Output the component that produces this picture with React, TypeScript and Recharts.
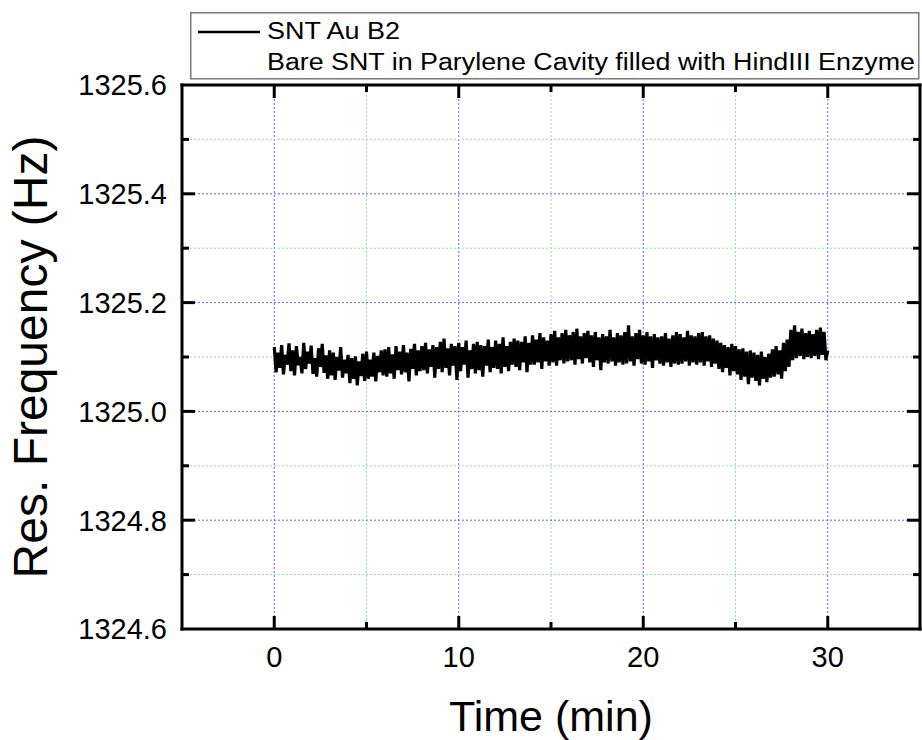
import React from "react";
import {
  LineChart,
  Line,
  XAxis,
  YAxis,
  ReferenceLine,
  Legend,
  Label,
} from "recharts";

const FONT = "'Liberation Sans', Arial, Helvetica, sans-serif";

// resonance frequency (Hz), one sample every 0.1 min from 0 to 30 min
const sampleStepMin = 0.1;
const resFreq = [
  1325.118, 1325.072, 1325.108, 1325.080, 1325.122, 1325.068, 1325.104, 1325.086, 1325.125, 1325.074,
  1325.112, 1325.066, 1325.120, 1325.085, 1325.100, 1325.070, 1325.126, 1325.078, 1325.110, 1325.088,
  1325.121, 1325.069, 1325.098, 1325.064, 1325.116, 1325.082, 1325.124, 1325.071, 1325.103, 1325.060,
  1325.112, 1325.066, 1325.108, 1325.058, 1325.100, 1325.075, 1325.118, 1325.062, 1325.095, 1325.070,
  1325.104, 1325.052, 1325.098, 1325.060, 1325.101, 1325.048, 1325.092, 1325.065, 1325.106, 1325.056,
  1325.110, 1325.060, 1325.095, 1325.064, 1325.108, 1325.055, 1325.102, 1325.072, 1325.112, 1325.066,
  1325.114, 1325.064, 1325.118, 1325.070, 1325.105, 1325.060, 1325.120, 1325.076, 1325.110, 1325.068,
  1325.122, 1325.072, 1325.108, 1325.055, 1325.115, 1325.078, 1325.124, 1325.066, 1325.112, 1325.074,
  1325.120, 1325.076, 1325.126, 1325.070, 1325.114, 1325.082, 1325.122, 1325.062, 1325.118, 1325.078,
  1325.128, 1325.072, 1325.134, 1325.080, 1325.116, 1325.066, 1325.124, 1325.084, 1325.120, 1325.058,
  1325.126, 1325.074, 1325.118, 1325.086, 1325.130, 1325.062, 1325.112, 1325.078, 1325.124, 1325.070,
  1325.128, 1325.076, 1325.122, 1325.064, 1325.120, 1325.084, 1325.132, 1325.072, 1325.118, 1325.080,
  1325.130, 1325.078, 1325.124, 1325.070, 1325.136, 1325.082, 1325.120, 1325.074, 1325.128, 1325.086,
  1325.134, 1325.082, 1325.130, 1325.076, 1325.128, 1325.090, 1325.138, 1325.072, 1325.126, 1325.086,
  1325.140, 1325.086, 1325.132, 1325.090, 1325.144, 1325.078, 1325.136, 1325.092, 1325.130, 1325.084,
  1325.142, 1325.090, 1325.148, 1325.084, 1325.136, 1325.094, 1325.144, 1325.088, 1325.150, 1325.092,
  1325.140, 1325.094, 1325.146, 1325.086, 1325.152, 1325.096, 1325.138, 1325.088, 1325.144, 1325.098,
  1325.148, 1325.090, 1325.140, 1325.082, 1325.146, 1325.094, 1325.136, 1325.076, 1325.142, 1325.090,
  1325.138, 1325.088, 1325.150, 1325.092, 1325.136, 1325.084, 1325.144, 1325.090, 1325.140, 1325.086,
  1325.146, 1325.088, 1325.158, 1325.092, 1325.138, 1325.084, 1325.144, 1325.096, 1325.150, 1325.088,
  1325.140, 1325.086, 1325.146, 1325.092, 1325.138, 1325.080, 1325.142, 1325.094, 1325.136, 1325.088,
  1325.138, 1325.084, 1325.144, 1325.090, 1325.134, 1325.082, 1325.140, 1325.088, 1325.146, 1325.086,
  1325.142, 1325.088, 1325.136, 1325.092, 1325.148, 1325.084, 1325.140, 1325.090, 1325.138, 1325.086,
  1325.144, 1325.090, 1325.146, 1325.084, 1325.138, 1325.092, 1325.140, 1325.082, 1325.134, 1325.088,
  1325.130, 1325.078, 1325.126, 1325.072, 1325.122, 1325.080, 1325.118, 1325.066, 1325.124, 1325.074,
  1325.120, 1325.068, 1325.114, 1325.058, 1325.116, 1325.064, 1325.110, 1325.050, 1325.112, 1325.062,
  1325.108, 1325.056, 1325.104, 1325.048, 1325.110, 1325.060, 1325.100, 1325.054, 1325.106, 1325.062,
  1325.114, 1325.064, 1325.120, 1325.068, 1325.112, 1325.060, 1325.126, 1325.074, 1325.132, 1325.082,
  1325.150, 1325.094, 1325.158, 1325.098, 1325.146, 1325.102, 1325.152, 1325.096, 1325.144, 1325.100,
  1325.148, 1325.098, 1325.142, 1325.102, 1325.150, 1325.096, 1325.154, 1325.104, 1325.146, 1325.094,
  1325.112,
];

const seriesName = "SNT Au B2";
const legendNote = "Bare SNT in Parylene Cavity filled with HindIII Enzyme";

const xDomain = [-5, 35];
const xMajorTicks = [0, 10, 20, 30];
const xMinorTicks = [5, 15, 25];

const yDomain = [1324.6, 1325.6];
const yMajorTicks = [1324.6, 1324.8, 1325.0, 1325.2, 1325.4, 1325.6];
const yMinorTicks = [1324.7, 1324.9, 1325.1, 1325.3, 1325.5];

const data = resFreq.map((f, i) => ({
  t: Math.round(i * sampleStepMin * 10) / 10,
  f,
}));

// frame of the plot area (page pixels)
const W = 922;
const H = 740;
const PLOT_LEFT = 182;
const PLOT_TOP = 85;
const PLOT_RIGHT = 920;
const PLOT_BOTTOM = 629;
const TOP_AXIS_H = 5;
const RIGHT_AXIS_W = 2;

// data units per pixel, for sizing the inward tick marks
const xPerPx = (xDomain[1] - xDomain[0]) / (PLOT_RIGHT - PLOT_LEFT);
const yPerPx = (yDomain[1] - yDomain[0]) / (PLOT_BOTTOM - PLOT_TOP);

const inside = (v: number, d: number[]) => v > d[0] + 1e-6 && v < d[1] - 1e-6;

const MAJOR_LEN = 13;
const MINOR_LEN = 7;
const tickStyle = { stroke: "#000", strokeWidth: 3, ifOverflow: "visible" as const };
const axisLine = { stroke: "#000", strokeWidth: 3, strokeLinecap: "square" as const };
const majorGrid = { stroke: "#6060ff", strokeWidth: 1, strokeDasharray: "2 2" };
const minorGrid = { stroke: "#90e890", strokeWidth: 1, strokeDasharray: "2 2" };

function BottomLabel({ x, payload }: any) {
  return (
    <text x={x} y={PLOT_BOTTOM + 38} textAnchor="middle" fontSize={29} fontFamily={FONT} fill="#000">
      {payload.value}
    </text>
  );
}

function LeftLabel({ y, payload }: any) {
  return (
    <text x={PLOT_LEFT - 15} y={y} dy="0.36em" textAnchor="end" fontSize={29} fontFamily={FONT} fill="#000">
      {Number(payload.value).toFixed(1)}
    </text>
  );
}

function LegendBox({ payload }: any) {
  const item = payload && payload[0];
  return (
    <svg width={731} height={69} style={{ display: "block" }}>
      <rect x={0.75} y={0.75} width={728} height={66} fill="#fff" stroke="#7a7a7a" strokeWidth={1.5} />
      <line x1={8} y1={20} x2={70} y2={20} stroke={item?.color ?? "#000"} strokeWidth={2.5} />
      <text x={77} y={27} fontSize={23} fontFamily={FONT} fill="#000" textLength={133} lengthAdjust="spacingAndGlyphs">
        {item?.value ?? seriesName}
      </text>
      <text x={77} y={58} fontSize={23} fontFamily={FONT} fill="#000" textLength={648} lengthAdjust="spacingAndGlyphs">
        {legendNote}
      </text>
    </svg>
  );
}

export default function App() {
  const [y0, y1] = yDomain;
  const [x0, x1] = xDomain;
  const xTickMarks = [
    ...xMajorTicks.map((v) => ({ v, len: MAJOR_LEN })),
    ...xMinorTicks.map((v) => ({ v, len: MINOR_LEN })),
  ];
  const yTickMarks = [
    ...yMajorTicks.filter((v) => inside(v, yDomain)).map((v) => ({ v, len: MAJOR_LEN })),
    ...yMinorTicks.map((v) => ({ v, len: MINOR_LEN })),
  ];

  return (
    <div style={{ position: "absolute", left: 0, top: 0, width: W, height: H, background: "#fff" }}>
      <LineChart
        width={W}
        height={H}
        data={data}
        margin={{ top: PLOT_TOP - TOP_AXIS_H, right: W - PLOT_RIGHT - RIGHT_AXIS_W, bottom: 0, left: 0 }}
      >
        {/* grid */}
        {[...xMajorTicks, ...xMinorTicks].map((v) => (
          <ReferenceLine key={`gx${v}`} x={v} {...(xMajorTicks.includes(v) ? majorGrid : minorGrid)} />
        ))}
        {yTickMarks.map(({ v }) => (
          <ReferenceLine key={`gy${v}`} y={v} {...(yMajorTicks.includes(v) ? majorGrid : minorGrid)} />
        ))}

        <XAxis
          dataKey="t"
          type="number"
          domain={xDomain}
          ticks={xMajorTicks}
          interval={0}
          allowDataOverflow
          height={H - PLOT_BOTTOM}
          tickSize={0}
          tickMargin={0}
          tickLine={false}
          axisLine={axisLine}
          tick={<BottomLabel />}
        >
          <Label
            content={({ viewBox }: any) => (
              <text
                x={viewBox.x + viewBox.width / 2}
                y={PLOT_BOTTOM + 102}
                textAnchor="middle"
                fontSize={43}
                fontFamily={FONT}
                fill="#000"
              >
                Time (min)
              </text>
            )}
          />
        </XAxis>
        <XAxis
          xAxisId="top"
          orientation="top"
          dataKey="t"
          type="number"
          domain={xDomain}
          allowDataOverflow
          height={TOP_AXIS_H}
          tickLine={false}
          tick={false}
          axisLine={axisLine}
        />
        <YAxis
          type="number"
          domain={yDomain}
          ticks={yMajorTicks}
          interval={0}
          allowDataOverflow
          width={PLOT_LEFT}
          tickSize={0}
          tickMargin={0}
          tickLine={false}
          axisLine={axisLine}
          tick={<LeftLabel />}
        >
          <Label
            content={({ viewBox }: any) => {
              const cx = 47;
              const cy = viewBox.y + viewBox.height / 2;
              return (
                <text
                  x={cx}
                  y={cy}
                  transform={`rotate(-90 ${cx} ${cy})`}
                  textAnchor="middle"
                  fontSize={48}
                  fontFamily={FONT}
                  fill="#000"
                >
                  Res. Frequency (Hz)
                </text>
              );
            }}
          />
        </YAxis>
        <YAxis
          yAxisId="right"
          orientation="right"
          type="number"
          domain={yDomain}
          allowDataOverflow
          width={RIGHT_AXIS_W}
          tickLine={false}
          tick={false}
          axisLine={axisLine}
        />

        {/* inward tick marks on all four sides */}
        {xTickMarks.map(({ v, len }) => (
          <ReferenceLine
            key={`tb${v}`}
            segment={[{ x: v, y: y0 }, { x: v, y: y0 + len * yPerPx }]}
            {...tickStyle}
          />
        ))}
        {xTickMarks.map(({ v, len }) => (
          <ReferenceLine
            key={`tt${v}`}
            segment={[{ x: v, y: y1 }, { x: v, y: y1 - len * yPerPx }]}
            {...tickStyle}
          />
        ))}
        {yTickMarks.map(({ v, len }) => (
          <ReferenceLine
            key={`tl${v}`}
            segment={[{ x: x0, y: v }, { x: x0 + len * xPerPx, y: v }]}
            {...tickStyle}
          />
        ))}
        {yTickMarks.map(({ v, len }) => (
          <ReferenceLine
            key={`tr${v}`}
            segment={[{ x: x1, y: v }, { x: x1 - len * xPerPx, y: v }]}
            {...tickStyle}
          />
        ))}

        <Legend
          layout="horizontal"
          verticalAlign="middle"
          align="center"
          wrapperStyle={{ top: 12, left: 190, width: 731, height: 69 }}
          content={<LegendBox />}
        />
        <Line
          type="linear"
          dataKey="f"
          name={seriesName}
          stroke="#000"
          strokeWidth={3.2}
          dot={false}
          isAnimationActive={false}
        />
      </LineChart>
    </div>
  );
}
